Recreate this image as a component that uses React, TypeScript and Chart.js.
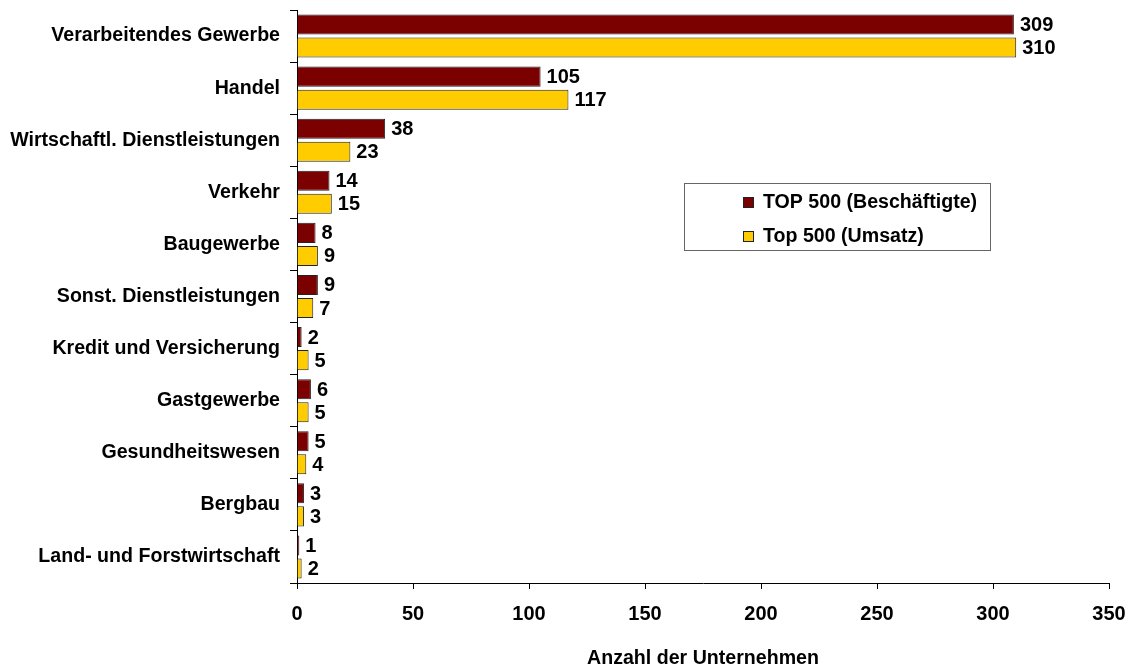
import React, { useEffect, useRef } from "react";
import { Chart, registerables } from "chart.js";

Chart.register(...registerables);

const categories = [
  "Verarbeitendes Gewerbe",
  "Handel",
  "Wirtschaftl. Dienstleistungen",
  "Verkehr",
  "Baugewerbe",
  "Sonst. Dienstleistungen",
  "Kredit und Versicherung",
  "Gastgewerbe",
  "Gesundheitswesen",
  "Bergbau",
  "Land- und Forstwirtschaft",
];

const beschaeftigte = [309, 105, 38, 14, 8, 9, 2, 6, 5, 3, 1];
const umsatz = [310, 117, 23, 15, 9, 7, 5, 5, 4, 3, 2];

const seriesNames = ["TOP 500 (Beschäftigte)", "Top 500 (Umsatz)"];
const xTicks = [0, 50, 100, 150, 200, 250, 300, 350];
const axisTitle = "Anzahl der Unternehmen";

const FONT = "'Liberation Sans', Arial, sans-serif";
const TEXT_SIZE = 19.6;
const RED = "#7B0000";
const YELLOW = "#FFCC00";

// Value labels to the right of each bar
const valueLabels = {
  id: "valueLabels",
  afterDatasetsDraw(chart: any) {
    const ctx = chart.ctx;
    ctx.save();
    ctx.font = `bold 20px ${FONT}`;
    ctx.fillStyle = "#000";
    ctx.textAlign = "left";
    ctx.textBaseline = "middle";
    chart.data.datasets.forEach((ds: any, i: number) => {
      const meta = chart.getDatasetMeta(i);
      meta.data.forEach((bar: any, j: number) => {
        ctx.fillText(String(ds.data[j]), bar.x + 6, bar.y + 1);
      });
    });
    ctx.restore();
  },
};

// Boxed legend inside the plot area
const boxLegend = {
  id: "boxLegend",
  afterDraw(chart: any) {
    const ctx = chart.ctx;
    const area = chart.chartArea;
    const x0 = area.left + 387;
    const y0 = area.top + 173;
    const w = 306;
    const h = 67;
    ctx.save();
    ctx.fillStyle = "#fff";
    ctx.fillRect(x0, y0, w, h);
    ctx.strokeStyle = "#666";
    ctx.lineWidth = 1;
    ctx.strokeRect(x0 + 0.5, y0 + 0.5, w, h);
    ctx.font = `bold ${TEXT_SIZE}px ${FONT}`;
    ctx.textBaseline = "middle";
    ctx.textAlign = "left";
    const colors = [RED, YELLOW];
    seriesNames.forEach((name, i) => {
      const cy = y0 + 19 + i * 34;
      ctx.fillStyle = colors[i];
      ctx.fillRect(x0 + 59, cy - 5, 11, 11);
      ctx.strokeStyle = "#222";
      ctx.strokeRect(x0 + 59.5, cy - 4.5, 10, 10);
      ctx.fillStyle = "#000";
      ctx.fillText(name, x0 + 79, cy + 1);
    });
    ctx.restore();
  },
};

export default function App() {
  const ref = useRef<HTMLCanvasElement>(null);

  useEffect(() => {
    if (!ref.current) return;
    const chart = new Chart(ref.current, {
      type: "bar",
      data: {
        labels: categories,
        datasets: [
          {
            label: seriesNames[0],
            data: beschaeftigte,
            backgroundColor: RED,
            borderColor: "#222",
            borderWidth: 1,
            categoryPercentage: 0.885,
            barPercentage: 0.87,
          },
          {
            label: seriesNames[1],
            data: umsatz,
            backgroundColor: YELLOW,
            borderColor: "#222",
            borderWidth: 1,
            categoryPercentage: 0.885,
            barPercentage: 0.87,
          },
        ],
      },
      options: {
        indexAxis: "y",
        animation: false,
        responsive: false,
        layout: { padding: { top: 10, right: 25, left: 0, bottom: 0 } },
        plugins: {
          legend: { display: false },
          tooltip: { enabled: false },
        },
        scales: {
          x: {
            min: 0,
            max: 350,
            afterBuildTicks: (s: any) => {
              s.ticks = xTicks.map((v) => ({ value: v }));
            },
            afterFit: (s: any) => {
              s.height = 84;
              s.paddingLeft = 0;
              s.paddingRight = 0;
            },
            grid: {
              drawOnChartArea: false,
              drawTicks: true,
              tickLength: 6,
              color: "#000",
            },
            border: { color: "#000", width: 1 },
            ticks: {
              color: "#000",
              padding: 13,
              font: { family: FONT, size: 20, weight: "bold" },
            },
            title: {
              display: true,
              text: axisTitle,
              color: "#000",
              padding: { top: 10, bottom: -3 },
              font: { family: FONT, size: TEXT_SIZE, weight: "bold" },
            },
          },
          y: {
            afterFit: (s: any) => {
              s.width = 297;
              s.paddingTop = 0;
              s.paddingBottom = 0;
            },
            grid: {
              offset: true,
              drawOnChartArea: false,
              drawTicks: true,
              tickLength: 7,
              color: "#000",
            },
            border: { color: "#000", width: 1 },
            ticks: {
              color: "#000",
              padding: 10,
              font: { family: FONT, size: TEXT_SIZE, weight: "bold" },
            },
          },
        },
      },
      plugins: [valueLabels, boxLegend],
    });
    return () => chart.destroy();
  }, []);

  return (
    <div style={{ position: "fixed", left: 0, top: 0, width: 1134, height: 667, background: "#fff" }}>
      <canvas ref={ref} width={1134} height={667} />
    </div>
  );
}
